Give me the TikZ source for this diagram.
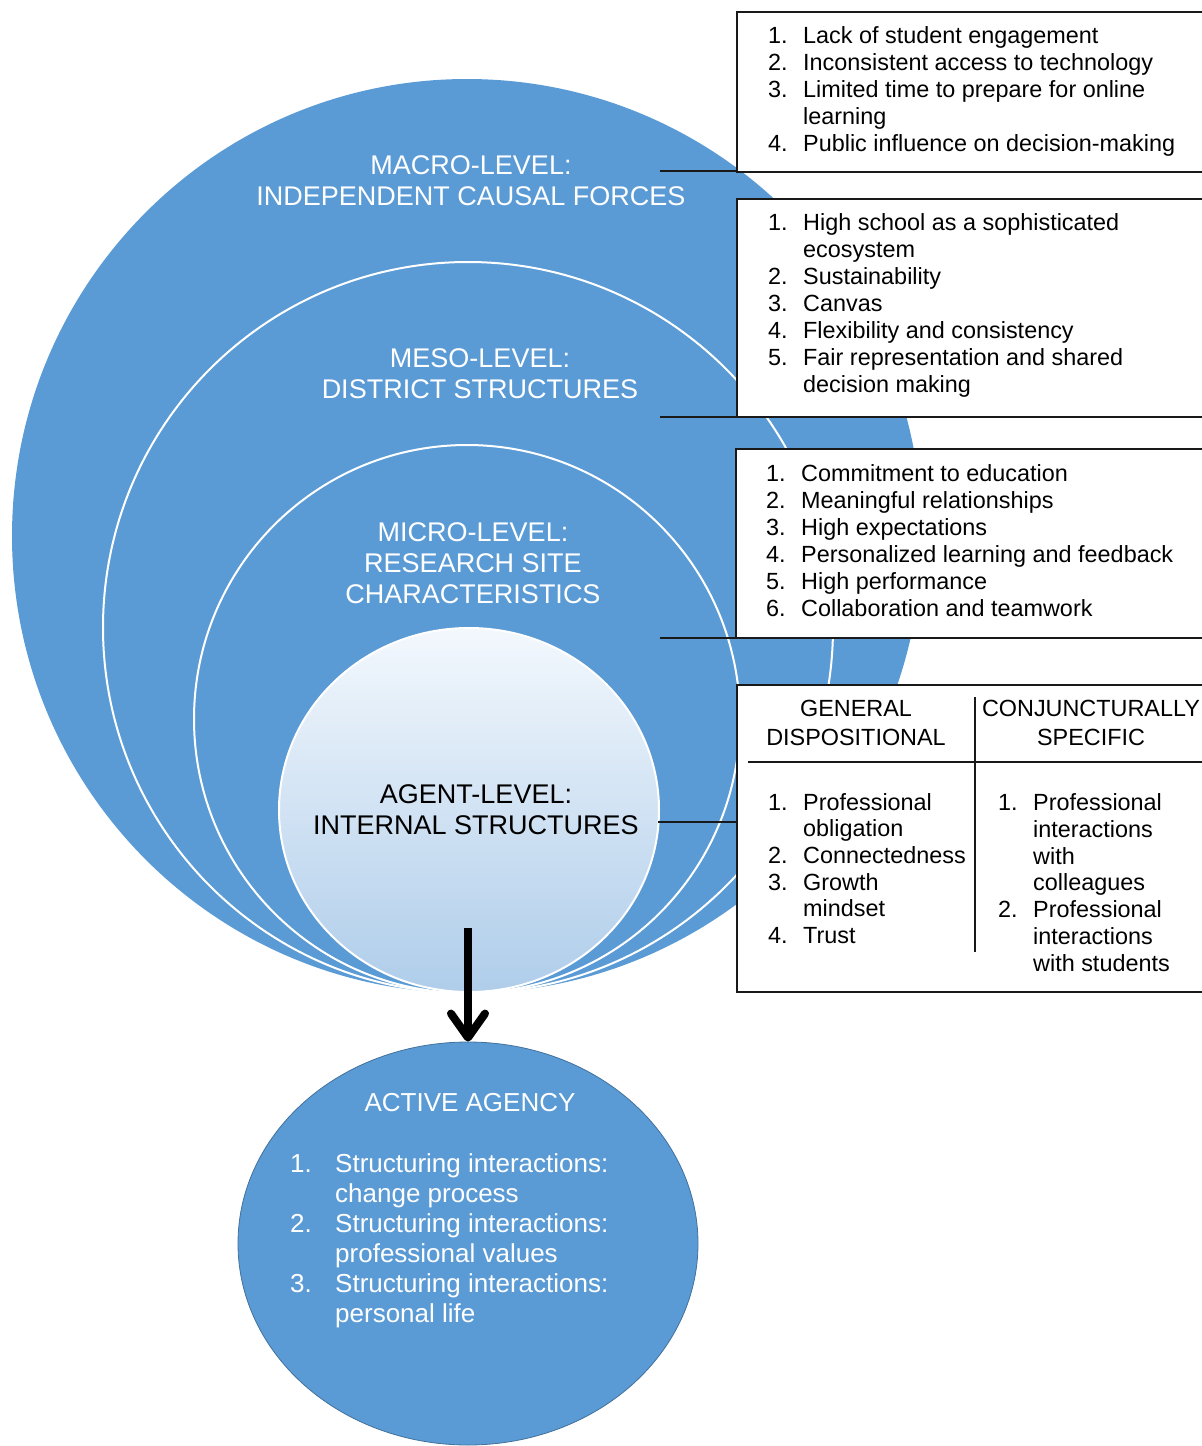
\documentclass[tikz,border=0pt]{standalone}
\usepackage{fontspec}
\setmainfont{Liberation Sans}
\usetikzlibrary{arrows.meta,shapes.geometric}

\definecolor{ringblue}{HTML}{5B9BD5}
\definecolor{agenttop}{HTML}{F3F8FD}
\definecolor{agentbot}{HTML}{AFCDEA}
\definecolor{agencyedge}{HTML}{41719C}

% numbered entry with a hanging indent, and a continuation line
\newcommand{\itm}[2]{\makebox[35pt][l]{#1}#2}
\newcommand{\cnt}[1]{\hspace*{35pt}#1}
\newcommand{\bigitm}[2]{\makebox[45pt][l]{#1}#2}
\newcommand{\bigcnt}[1]{\hspace*{45pt}#1}

\begin{document}
\begin{tikzpicture}[x=1pt,y=-1pt,
  ring/.style={fill=ringblue, draw=white, line width=2pt},
  title/.style={text=white, align=center, inner sep=0pt,
    font=\fontsize{27}{31}\selectfont},
  boxframe/.style={draw=black!90, line width=1.8pt, fill=white,
    inner sep=0pt, outer sep=0pt, anchor=north west},
  boxtext/.style={anchor=north west, inner sep=0pt,
    font=\fontsize{23.4}{27}\selectfont},
  link/.style={draw=black!90, line width=1.8pt},
]
\useasboundingbox (0,0) rectangle (1202,1446);
\clip (0,0) rectangle (1202,1446);

% nested levels
\fill[ringblue] (467,536) ellipse [x radius=455, y radius=457];
\draw[ring] (468,627.5) ellipse [x radius=365, y radius=365.5];
\draw[ring] (467,719) ellipse [x radius=273, y radius=274];
\node[ellipse, draw=white, line width=2pt, top color=agenttop,
  bottom color=agentbot, minimum width=380, minimum height=364,
  inner sep=0pt] (agent) at (469,810) {};

\node[title] (macro) at (471,180.5) {MACRO-LEVEL:\\INDEPENDENT CAUSAL FORCES};
\node[title] (meso) at (480,373.5) {MESO-LEVEL:\\DISTRICT STRUCTURES};
\node[title] (micro) at (473,563) {MICRO-LEVEL:\\RESEARCH SITE\\CHARACTERISTICS};
\node[title, text=black] (agentlbl) at (476,810) {AGENT-LEVEL:\\INTERNAL STRUCTURES};

% frames
\node[boxframe, minimum width=480, minimum height=160] (box1) at (737,12) {};
\node[boxframe, minimum width=480, minimum height=218] (box2) at (737,199) {};
\node[boxframe, minimum width=480, minimum height=189] (box3) at (736,449) {};
\node[boxframe, minimum width=480, minimum height=307] (box4) at (737,685) {};

% connectors
\coordinate (c1) at (660,171);
\coordinate (c2) at (660,417);
\coordinate (c3) at (660,638);
\coordinate (c4) at (658,822);
\draw[link] (c1) -- (c1 -| box1.west);
\draw[link] (c2) -- (c2 -| box2.west);
\draw[link] (c3) -- (c3 -| box3.west);
\draw[link] (c4) -- (c4 -| box4.west);

% lists
\node[boxtext] (list1) at (768,24.5) {\begin{tabular}{@{}l@{}}
\itm{1.}{Lack of student engagement}\\
\itm{2.}{Inconsistent access to technology}\\
\itm{3.}{Limited time to prepare for online}\\
\cnt{learning}\\
\itm{4.}{Public influence on decision-making}
\end{tabular}};

\node[boxtext] (list2) at (768,211.5) {\begin{tabular}{@{}l@{}}
\itm{1.}{High school as a sophisticated}\\
\cnt{ecosystem}\\
\itm{2.}{Sustainability}\\
\itm{3.}{Canvas}\\
\itm{4.}{Flexibility and consistency}\\
\itm{5.}{Fair representation and shared}\\
\cnt{decision making}
\end{tabular}};

\node[boxtext] (list3) at (766,462.5) {\begin{tabular}{@{}l@{}}
\itm{1.}{Commitment to education}\\
\itm{2.}{Meaningful relationships}\\
\itm{3.}{High expectations}\\
\itm{4.}{Personalized learning and feedback}\\
\itm{5.}{High performance}\\
\itm{6.}{Collaboration and teamwork}
\end{tabular}};

% two-column table in the last frame
\draw[link, line width=1.4pt] (975,697) -- (975,952);
\draw[link, line width=1.4pt] (748,762) -- (1215,762);
\node[inner sep=0pt, align=center, font=\fontsize{23.4}{29}\selectfont]
  (gen) at (856,722.5) {GENERAL\\DISPOSITIONAL};
\node[inner sep=0pt, align=center, font=\fontsize{23.4}{29}\selectfont]
  (conj) at (1091,722.5) {CONJUNCTURALLY\\SPECIFIC};

\node[boxtext, font=\fontsize{23.4}{26.6}\selectfont] (list4a) at (768,791.5) {\begin{tabular}{@{}l@{}}
\itm{1.}{Professional}\\
\cnt{obligation}\\
\itm{2.}{Connectedness}\\
\itm{3.}{Growth}\\
\cnt{mindset}\\
\itm{4.}{Trust}
\end{tabular}};

\node[boxtext, font=\fontsize{23.4}{26.8}\selectfont] (list4b) at (998,791.5) {\begin{tabular}{@{}l@{}}
\itm{1.}{Professional}\\
\cnt{interactions}\\
\cnt{with}\\
\cnt{colleagues}\\
\itm{2.}{Professional}\\
\cnt{interactions}\\
\cnt{with students}
\end{tabular}};

% outcome
\node[ellipse, fill=ringblue, draw=agencyedge, line width=0.8pt,
  minimum width=460, minimum height=403, inner sep=0pt] (agency) at (468,1243.5) {};
\node[title, font=\fontsize{26}{30}\selectfont] (agencytitle) at (470,1103) {ACTIVE AGENCY};
\node[anchor=north west, inner sep=0pt, text=white,
  font=\fontsize{26}{30}\selectfont] (agencylist) at (290,1151.6) {\begin{tabular}{@{}l@{}}
\bigitm{1.}{Structuring interactions:}\\
\bigcnt{change process}\\
\bigitm{2.}{Structuring interactions:}\\
\bigcnt{professional values}\\
\bigitm{3.}{Structuring interactions:}\\
\bigcnt{personal life}
\end{tabular}};

\coordinate (arrowtail) at (468,928);
\draw[line width=8pt, -{Straight Barb[length=24pt, width=34pt, round]}]
  (arrowtail) -- (agency.north);
\end{tikzpicture}
\end{document}
